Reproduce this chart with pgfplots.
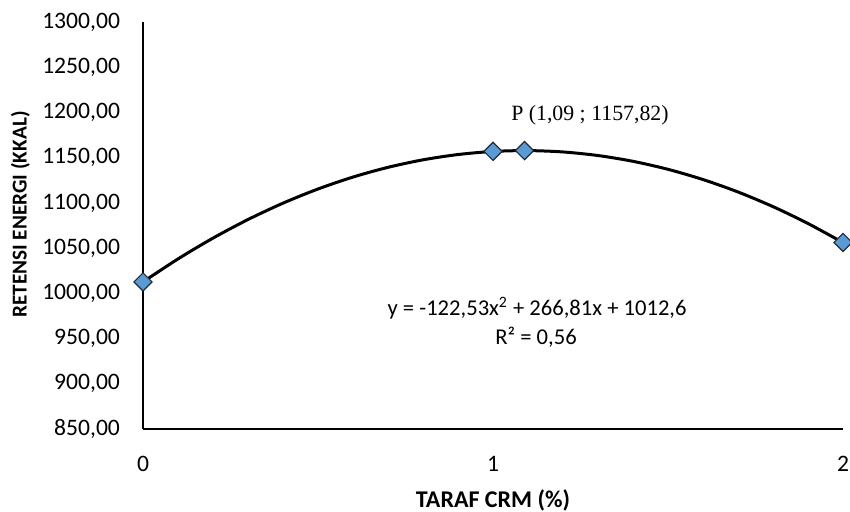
\documentclass[border=0pt]{standalone}
\usepackage{pgfplots}
\pgfplotsset{compat=1.18}
\usepackage{fontspec}
\setmainfont{Carlito}
\newfontfamily\serifP{Liberation Serif}
\definecolor{mk}{HTML}{5B9BD5}
\definecolor{mkedge}{HTML}{1F2A3A}
\begin{document}
\begin{tikzpicture}
\useasboundingbox (0,0) rectangle (425pt,255.5pt);
\begin{axis}[
  at={(71.5pt,41pt)}, anchor=south west,
  scale only axis, width=350pt, height=203.5pt,
  xmin=0, xmax=2, ymin=850, ymax=1300,
  xtick={0,1,2}, ytick={850,900,...,1300},
  axis lines*=left,
  axis line style={line width=1pt, -},
  major tick length=0pt,
  clip=false,
  tick label style={font=\fontsize{11.8}{13}\selectfont},
  y tick label style={/pgf/number format/fixed, /pgf/number format/fixed zerofill, /pgf/number format/precision=2, /pgf/number format/use comma, /pgf/number format/1000 sep={}},
  /pgf/number format/assume math mode=true,
  xticklabel style={yshift=-10pt},
  yticklabel style={xshift=-8pt},
  xlabel={\textbf{TARAF CRM (\%)}},
  ylabel={\textbf{RETENSI ENERGI (KKAL)}},
  xlabel style={font=\fontsize{12}{14}\selectfont, at={(axis description cs:0.5,0)}, anchor=north, yshift=-27pt},
  ylabel style={font=\fontsize{10.6}{12}\selectfont, at={(axis description cs:0,0.5)}, anchor=south, yshift=53pt, xshift=5.5pt},
]
\addplot[black, line width=1.5pt, smooth, no marks] coordinates {
(0,1012.6) (0.1,1038.06) (0.2,1061.06) (0.3,1081.62) (0.4,1099.72)
(0.5,1115.37) (0.6,1128.58) (0.7,1139.33) (0.8,1147.63) (0.9,1153.48)
(1.0,1156.88) (1.1,1157.83) (1.2,1156.33) (1.3,1152.38) (1.4,1145.98)
(1.5,1137.12) (1.6,1125.82) (1.7,1112.07) (1.8,1095.86) (1.9,1077.21)
(2.0,1056.1)};
\addplot[only marks, mark=square*, mark options={rotate=45, fill=mk, draw=mkedge, line width=0.6pt}, mark size=3.2pt] coordinates {
(0,1012.6) (1,1157.0) (1.09,1157.82) (2,1056.3)};
\node[font=\serifP\fontsize{10.9}{13}\selectfont, anchor=center] at (axis cs:1.277,1197) {P (1,09 ; 1157,82)};
\node[font=\fontsize{11.3}{13}\selectfont, anchor=center] at (axis cs:1.126,984) {y = -122,53x\textsuperscript{2} + 266,81x + 1012,6};
\node[font=\fontsize{11.3}{13}\selectfont, anchor=center] at (axis cs:1.123,951) {R² = 0,56};
\end{axis}
\end{tikzpicture}
\end{document}
